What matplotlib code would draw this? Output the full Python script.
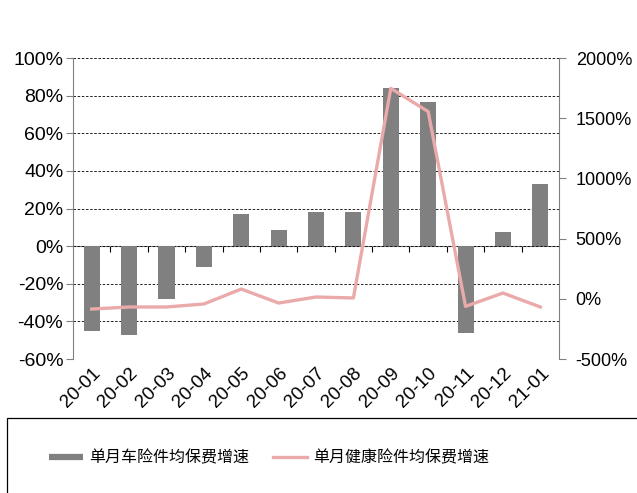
import matplotlib.pyplot as plt
from matplotlib.lines import Line2D
from matplotlib.patches import Rectangle
from matplotlib.ticker import FuncFormatter, MultipleLocator, FixedLocator

# data
months = ['20-01', '20-02', '20-03', '20-04', '20-05', '20-06', '20-07',
          '20-08', '20-09', '20-10', '20-11', '20-12', '21-01']
car_growth = [-45, -47, -28, -11, 17, 8.5, 18, 18, 84, 76.5, -46, 7.5, 33]
health_growth = [-85, -68, -68, -43, 81, -35, 15, 7, 1748, 1555, -63, 48, -68]

bar_color = '#808080'
line_color = '#EBAAAA'
axis_color = '#808080'

plt.rcParams['font.family'] = ['Liberation Sans', 'DejaVu Sans']

fig = plt.figure(figsize=(6.37, 4.93), dpi=100)
ax = fig.add_axes([0.1146, 0.2718, 0.763, 0.6105])

x = list(range(len(months)))
ax.bar(x, car_growth, width=0.43, color=bar_color, zorder=2)
ax.set_xlim(-0.5, len(months) - 0.5)
ax.set_ylim(-60, 100)
ax.yaxis.set_major_locator(MultipleLocator(20))
ax.yaxis.set_major_formatter(FuncFormatter(lambda v, p: f'{v:.0f}%'))
ax.grid(axis='y', color='black', linestyle=(0, (3, 2)), linewidth=0.6, zorder=0)
ax.set_axisbelow(True)

for s in ['top', 'bottom']:
    ax.spines[s].set_visible(False)
ax.spines['left'].set_color(axis_color)
ax.spines['right'].set_visible(False)
ax.tick_params(axis='y', colors=axis_color, labelcolor='black', labelsize=14,
               length=5, width=0.8, pad=2)
ax.set_xticks(x)
ax.set_xticklabels(months, rotation=45, ha='right', rotation_mode='anchor')
ax.tick_params(axis='x', length=0, labelsize=13.5, pad=4)

# zero axis with ticks between categories
zero_ax = ax.secondary_xaxis(60 / 160)
zero_ax.spines['bottom'].set_color(axis_color)
zero_ax.xaxis.set_major_locator(FixedLocator([i + 0.5 for i in range(len(months) - 1)]))
zero_ax.tick_params(axis='x', colors='black', length=4, width=0.8, labelbottom=False)

ax2 = ax.twinx()
ax2.plot(x, health_growth, color=line_color, linewidth=2.4, zorder=3)
ax2.set_ylim(-500, 2000)
ax2.yaxis.set_major_locator(MultipleLocator(500))
ax2.yaxis.set_major_formatter(FuncFormatter(lambda v, p: f'{v:.0f}%'))
for s in ['top', 'bottom', 'left']:
    ax2.spines[s].set_visible(False)
ax2.spines['right'].set_color(axis_color)
ax2.tick_params(axis='y', colors=axis_color, labelcolor='black', labelsize=13,
                length=5, width=0.8, pad=7)

# legend box
fig.patches.append(Rectangle((7 / 637, -0.05), 1.0, 1 - 418 / 493 + 0.05,
                             transform=fig.transFigure, fill=False,
                             edgecolor='black', linewidth=0.9))
handles = [Line2D([], [], color=bar_color, linewidth=4.5, solid_capstyle='butt'),
           Line2D([], [], color=line_color, linewidth=2.4)]
fig.legend(handles, ['单月车险件均保费增速', '单月健康险件均保费增速'],
           loc='center left', bbox_to_anchor=(0.055, 0.071), ncol=2, frameon=False,
           handlelength=2.1, handletextpad=0.4, columnspacing=1.5,
           prop={'family': ['Noto Sans CJK SC', 'DejaVu Sans'], 'size': 11.5})

fig.savefig('out.png', dpi=100)
